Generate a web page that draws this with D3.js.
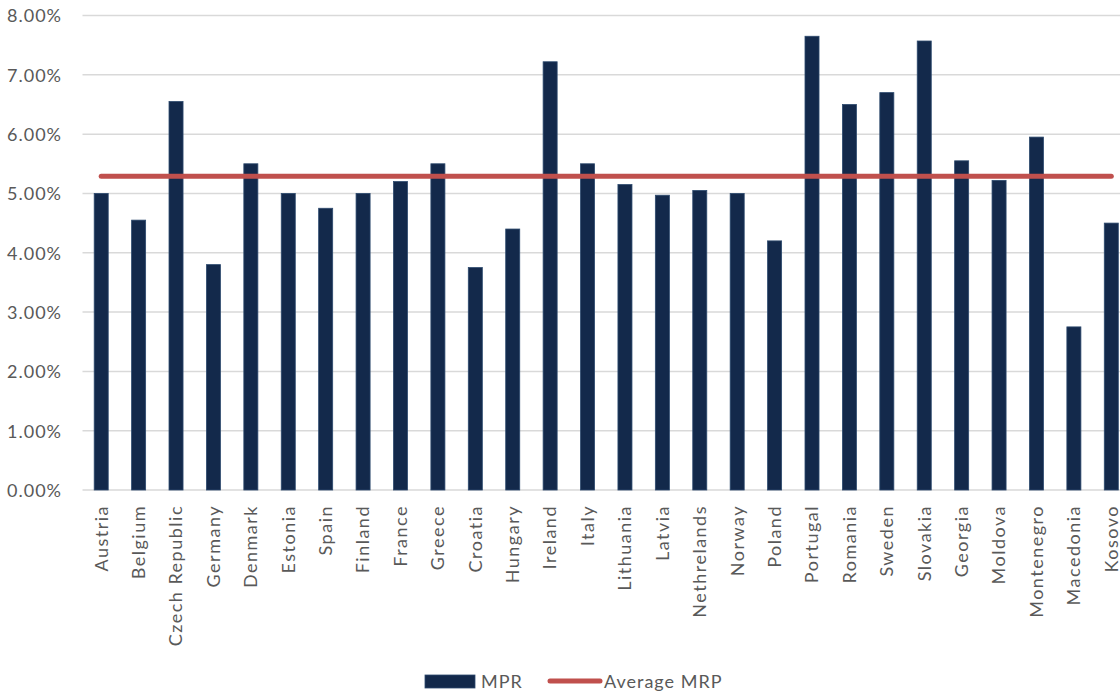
<!DOCTYPE html>
<html>
<head>
<meta charset="utf-8">
<script src="https://cdn.jsdelivr.net/npm/d3@7"></script>
<style>
  html, body { margin: 0; padding: 0; background: #fff; }
  svg { display: block; }
  text { font-family: Lato, "Open Sans", sans-serif; fill: #595959; }
</style>
</head>
<body>
<svg id="chart" width="1120" height="694"></svg>
<script>
// Market risk premium by country
const countries = ["Austria", "Belgium", "Czech Republic", "Germany", "Denmark", "Estonia", "Spain",
  "Finland", "France", "Greece", "Croatia", "Hungary", "Ireland", "Italy", "Lithuania", "Latvia",
  "Nethrelands", "Norway", "Poland", "Portugal", "Romania", "Sweden", "Slovakia", "Georgia",
  "Moldova", "Montenegro", "Macedonia", "Kosovo"];
const mpr = [0.0500, 0.0455, 0.0655, 0.0380, 0.0550, 0.0500, 0.0475,
  0.0500, 0.0520, 0.0550, 0.0375, 0.0440, 0.0722, 0.0550, 0.0515, 0.0497,
  0.0505, 0.0500, 0.0420, 0.0765, 0.0650, 0.0670, 0.0757, 0.0555,
  0.0522, 0.0595, 0.0275, 0.0450];
const averageMrp = 0.0529;
const yTicks = [0, 0.01, 0.02, 0.03, 0.04, 0.05, 0.06, 0.07, 0.08];
const seriesNames = ["MPR", "Average MRP"];

const barColor = "#13294b";
const lineColor = "#c0504d";

const svg = d3.select("#chart");

const x = d3.scaleBand().domain(countries).range([82.5, 1130]).paddingInner(0.625).paddingOuter(0.3125);
const y = d3.scaleLinear().domain([0, 0.08]).range([490, 15.5]);

// Gridlines
svg.append("g")
  .selectAll("line")
  .data(yTicks)
  .join("line")
  .attr("x1", 82.5).attr("x2", 1130)
  .attr("y1", d => y(d)).attr("y2", d => y(d))
  .attr("stroke", "#d9d9d9").attr("stroke-width", 1.5);

// Y axis labels
const yAxis = d3.axisLeft(y).tickValues(yTicks).tickFormat(d3.format(".2%")).tickSize(0).tickPadding(0);
const gy = svg.append("g").attr("transform", "translate(62,0)").call(yAxis);
gy.select(".domain").remove();
gy.selectAll("text").attr("font-size", 18).attr("fill", "#595959")
  .style("font-family", "Lato, 'Open Sans', sans-serif")
  .style("letter-spacing", "1px").attr("dy", "0.35em");

// Bars
svg.append("g")
  .selectAll("rect")
  .data(countries)
  .join("rect")
  .attr("x", d => x(d))
  .attr("width", x.bandwidth())
  .attr("y", (d, i) => y(mpr[i]))
  .attr("height", (d, i) => y(0) - y(mpr[i]))
  .attr("fill", barColor)
  .attr("stroke", "#2d4a6e").attr("stroke-width", 0.8);

// Average line across category centers
const line = d3.line()
  .x(d => x(d) + x.bandwidth() / 2)
  .y(() => y(averageMrp));
svg.append("path")
  .datum(countries)
  .attr("d", line)
  .attr("fill", "none")
  .attr("stroke", lineColor)
  .attr("stroke-width", 5)
  .attr("stroke-linecap", "round");

// X axis labels, rotated
const xAxis = d3.axisBottom(x).tickSize(0).tickPadding(0);
const gx = svg.append("g").attr("transform", "translate(0,505)").call(xAxis);
gx.select(".domain").remove();
gx.selectAll("text")
  .attr("font-size", 18)
  .attr("fill", "#595959")
  .style("font-family", "Lato, 'Open Sans', sans-serif")
  .style("letter-spacing", "1.5px")
  .attr("text-anchor", "end")
  .attr("transform", "rotate(-90)")
  .attr("x", 0).attr("y", 0).attr("dy", "0.35em");

// Legend
const legend = svg.append("g").style("letter-spacing", "1px");
legend.append("rect")
  .attr("x", 425).attr("y", 675).attr("width", 50).attr("height", 13)
  .attr("fill", barColor).attr("stroke", "#2d4a6e").attr("stroke-width", 0.8);
legend.append("text")
  .attr("x", 481).attr("y", 688).attr("font-size", 18).text(seriesNames[0]);
legend.append("line")
  .attr("x1", 550).attr("x2", 600).attr("y1", 681).attr("y2", 681)
  .attr("stroke", lineColor).attr("stroke-width", 5).attr("stroke-linecap", "round");
legend.append("text")
  .attr("x", 604).attr("y", 688).attr("font-size", 18).text(seriesNames[1]);
</script>
</body>
</html>
